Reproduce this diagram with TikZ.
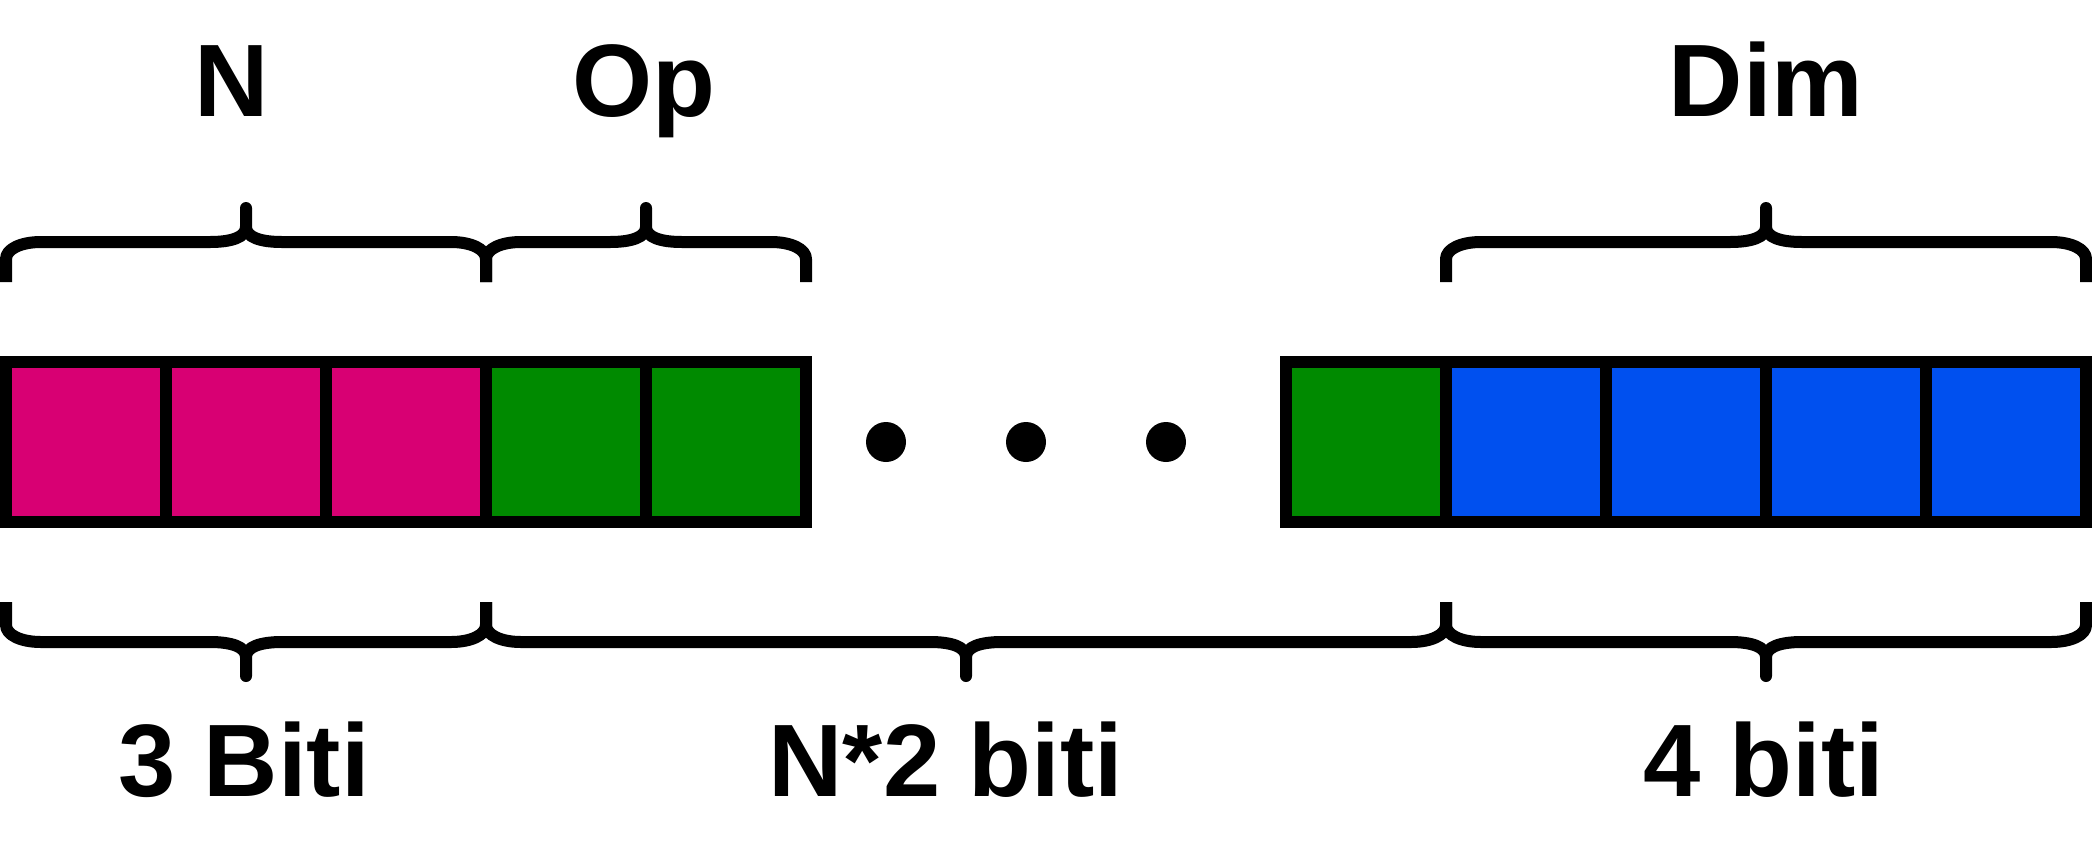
\documentclass[tikz,border=0pt]{standalone}
\usepackage{fontspec}
\setmainfont{Liberation Sans}
\definecolor{cmag}{HTML}{D80073}
\definecolor{cgreen}{HTML}{008A00}
\definecolor{cblue}{HTML}{0050EF}
\newcommand\mybrace[4]{%
\begin{scope}[shift={(0,442)},yscale=#4]
\draw[bracestyle] (#1,-160) -- (#1,-183) .. controls (#1,-193) and ({#1+15},-200) .. ({#1+35},-200)
 -- ({#3-36},-200) .. controls ({#3-14},-200) and (#3,-205) .. (#3,-215) -- (#3,-234)
 -- (#3,-215) .. controls (#3,-205) and ({#3+14},-200) .. ({#3+36},-200)
 -- ({#2-35},-200) .. controls ({#2-15},-200) and (#2,-193) .. (#2,-183) -- (#2,-160);
\end{scope}}
\tikzset{
 cell/.style={draw=black, line width=12pt, rectangle, minimum width=160pt, minimum height=160pt, inner sep=0pt, outer sep=0pt},
 dotnode/.style={circle, fill=black, minimum size=40pt, inner sep=0pt},
 bracestyle/.style={line width=12pt, line cap=butt, line join=round},
 lbl/.style={font=\fontsize{103pt}{123pt}\selectfont\bfseries, anchor=base, inner sep=0pt}
}
\begin{document}
\begin{tikzpicture}[x=1pt,y=-1pt]
\path[use as bounding box, fill=white] (0,0) rectangle (2092,844);
% first group
\node[cell, fill=cmag] (a1) at (86,442) {};
\node[cell, fill=cmag] (a2) at (246,442) {};
\node[cell, fill=cmag] (a3) at (406,442) {};
\node[cell, fill=cgreen] (a4) at (566,442) {};
\node[cell, fill=cgreen] (a5) at (726,442) {};
% dots
\node[dotnode] (d1) at (886,442) {};
\node[dotnode] (d2) at (1026,442) {};
\node[dotnode] (d3) at (1166,442) {};
% second group
\node[cell, fill=cgreen] (b1) at (1366,442) {};
\node[cell, fill=cblue] (b2) at (1526,442) {};
\node[cell, fill=cblue] (b3) at (1686,442) {};
\node[cell, fill=cblue] (b4) at (1846,442) {};
\node[cell, fill=cblue] (b5) at (2006,442) {};
% top braces
\mybrace{6}{486}{246}{1}
\mybrace{486}{806}{646}{1}
\mybrace{1446}{2086}{1766}{1}
% bottom braces
\mybrace{6}{486}{246}{-1}
\mybrace{486}{1446}{966}{-1}
\mybrace{1446}{2086}{1766}{-1}
% labels
\node[lbl] (tN) at (232,116.7) {N};
\node[lbl] (tOp) at (644,116.7) {Op};
\node[lbl] (tDim) at (1766,116.7) {Dim};
\node[lbl] (t3) at (244,796) {3 Biti};
\node[lbl] (tN2) at (946,796) {N*2 biti};
\node[lbl] (t4) at (1764,796) {4 biti};
\end{tikzpicture}
\end{document}
